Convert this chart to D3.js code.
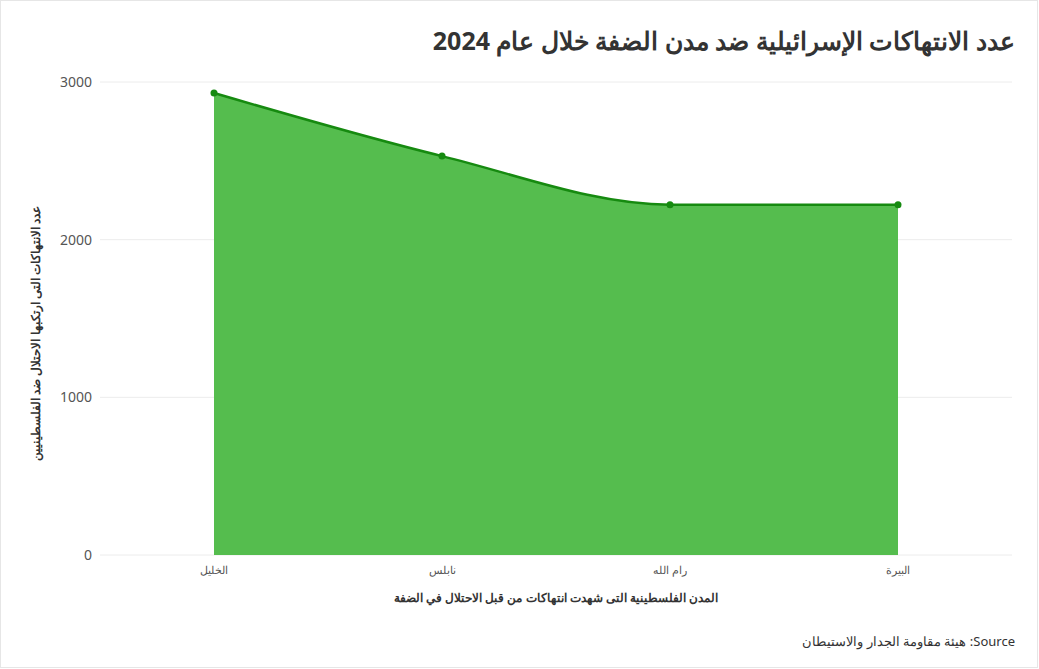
<!DOCTYPE html>
<html><head><meta charset="utf-8">
<script src="https://cdn.jsdelivr.net/npm/d3@7"></script>
<style>body{margin:0;background:#fff;font-family:"Noto Sans",sans-serif}</style>
</head><body>
<svg id="c" width="1039" height="669"></svg>
<script>
const cities = ["الخليل","نابلس","رام الله","البيرة"];
const values = [2930, 2530, 2222, 2222];
const yTicks = [0, 1000, 2000, 3000];

const svg = d3.select("#c");
svg.append("rect").attr("x",0.5).attr("y",0.5).attr("width",1037).attr("height",667).attr("fill","#fff").attr("stroke","#e6e6e6");
const L=100,R=1012,T=82,B=555;
const x = d3.scalePoint().domain(cities).range([L,R]).padding(0.5);
const y = d3.scaleLinear().domain([0,3000]).range([B,T]);

svg.append("g").selectAll("line").data(yTicks).join("line")
  .attr("x1",L).attr("x2",R).attr("y1",d=>y(d)).attr("y2",d=>y(d))
  .attr("stroke","#ececec");
svg.append("g").selectAll("text").data(yTicks).join("text")
  .attr("x",92).attr("y",d=>y(d)+5).attr("text-anchor","end")
  .attr("font-size",14).attr("fill","#555").text(d=>d);

const data = cities.map((c,i)=>({c,v:values[i]}));
svg.append("path").datum(data)
  .attr("d", d3.area().x(d=>x(d.c)).y0(y(0)).y1(d=>y(d.v)).curve(d3.curveMonotoneX))
  .attr("fill","#4cb944").attr("fill-opacity",0.95);
svg.append("path").datum(data)
  .attr("d", d3.line().x(d=>x(d.c)).y(d=>y(d.v)).curve(d3.curveMonotoneX))
  .attr("fill","none").attr("stroke","#168a10").attr("stroke-width",2.5);
svg.append("g").selectAll("circle").data(data).join("circle")
  .attr("cx",d=>x(d.c)).attr("cy",d=>y(d.v)).attr("r",3.5).attr("fill","#168a10");

svg.append("g").selectAll("text").data(cities).join("text")
  .attr("x",d=>x(d)).attr("y",574).attr("text-anchor","middle")
  .attr("font-size",11).attr("fill","#555").text(d=>d);

svg.append("text").attr("x",1015).attr("y",50).attr("text-anchor","start").attr("direction","rtl")
  .attr("font-size",25).attr("font-weight","bold").attr("fill","#333")
  .text("عدد الانتهاكات الإسرائيلية ضد مدن الضفة خلال عام 2024");
svg.append("text").attr("x",L+(R-L)/2).attr("y",602).attr("text-anchor","middle").attr("direction","rtl")
  .attr("font-size",12).attr("font-weight","bold").attr("fill","#333")
  .text("المدن الفلسطينية التى شهدت انتهاكات من قبل الاحتلال في الضفة");
svg.append("text").attr("transform",`translate(40,${(T+B)/2+15}) rotate(-90)`).attr("text-anchor","middle").attr("direction","rtl")
  .attr("font-size",12).attr("font-weight","bold").attr("fill","#333")
  .text("عدد الانتهاكات التى ارتكبها الاحتلال ضد الفلسطينيين");
svg.append("text").attr("x",1015).attr("y",646).attr("text-anchor","start").attr("direction","rtl")
  .attr("font-size",13).attr("fill","#333")
  .text("Source: هيئة مقاومة الجدار والاستيطان");
</script>
</body></html>
